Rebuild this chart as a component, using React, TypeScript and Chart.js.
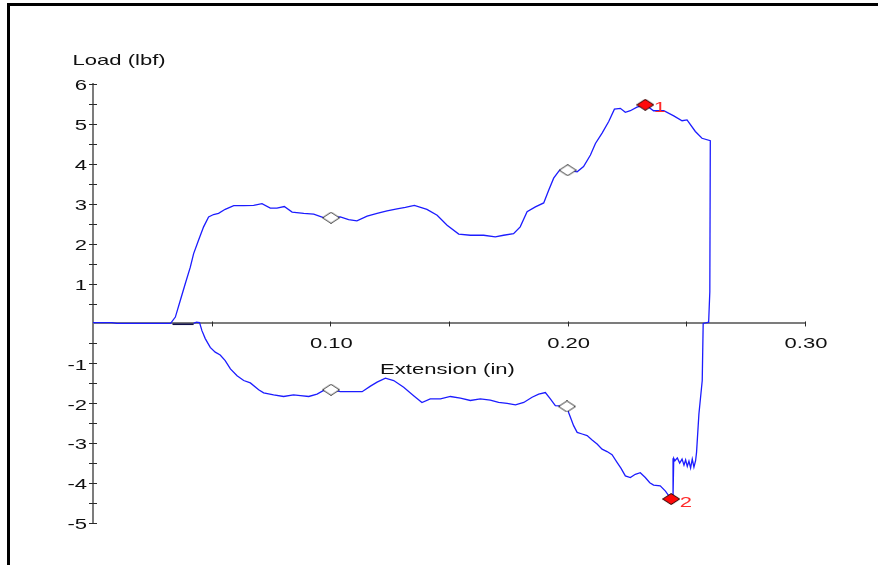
import React, { useEffect, useRef } from "react";
import { Chart, registerables } from "chart.js";

Chart.register(...registerables);

// ---- data (extension in inches, load in lbf) ----
const upperExt = [
  0, 0.008, 0.01, 0.0327, 0.0347, 0.0368, 0.0389, 0.041, 0.0424, 0.0445, 0.0466, 0.0487, 0.0508, 0.0529,
  0.0557, 0.0593, 0.0635, 0.0677, 0.0712, 0.0747, 0.0775, 0.0806, 0.0839, 0.0888, 0.093, 0.0968, 0.1003,
  0.1042, 0.1077, 0.1112, 0.1155, 0.1197, 0.1239, 0.1281, 0.1316, 0.1354, 0.1407, 0.145, 0.1492, 0.1541,
  0.159, 0.1646, 0.1695, 0.173, 0.1772, 0.18, 0.1829, 0.1864, 0.1899, 0.192, 0.1941, 0.1966, 0.2, 0.204,
  0.2067, 0.2096, 0.2117, 0.2145, 0.2173, 0.2197, 0.2222, 0.2243, 0.2264, 0.2292, 0.2327, 0.2362, 0.2405,
  0.2447, 0.2482, 0.2503, 0.2538, 0.2566, 0.2601,
];
const upperLoad = [
  0.02, 0.02, 0, 0, 0.16, 0.58, 1.0, 1.41, 1.75, 2.09, 2.42, 2.67, 2.73, 2.76,
  2.86, 2.95, 2.95, 2.96, 3.0, 2.89, 2.89, 2.93, 2.79, 2.76, 2.74, 2.66, 2.65,
  2.67, 2.6, 2.57, 2.69, 2.76, 2.82, 2.87, 2.91, 2.96, 2.86, 2.71, 2.46, 2.24,
  2.21, 2.21, 2.17, 2.21, 2.25, 2.42, 2.8, 2.92, 3.02, 3.34, 3.64, 3.84, 3.84, 3.8,
  3.93, 4.22, 4.51, 4.77, 5.06, 5.37, 5.39, 5.29, 5.33, 5.42, 5.48, 5.33, 5.33,
  5.2, 5.08, 5.1, 4.81, 4.64, 4.58,
];
const dropExt = [
  0.2599, 0.2594, 0.2571, 0.2567, 0.2553, 0.2543, 0.2539, 0.2532, 0.2525, 0.2518, 0.2511, 0.2504, 0.2497,
  0.249, 0.2482, 0.2472, 0.2462, 0.2452, 0.2447, 0.2444, 0.2444, 0.2436,
];
const dropLoad = [
  0.8, 0.03, 0, -1.43, -2.27, -3.23, -3.44, -3.6, -3.4, -3.62, -3.45, -3.58, -3.42,
  -3.55, -3.4, -3.5, -3.37, -3.44, -3.38, -3.44, -4.32, -4.4,
];
const lowerExt = [
  0.2412, 0.239, 0.2362, 0.2346, 0.2327, 0.2306, 0.2285, 0.2264, 0.2243, 0.2225, 0.2208, 0.2187, 0.2166,
  0.2145, 0.2124, 0.2103, 0.2082, 0.2061, 0.204, 0.2025, 0.2014, 0.2004, 0.1997, 0.1948, 0.1927, 0.1906,
  0.1878, 0.185, 0.1815, 0.178, 0.1745, 0.1709, 0.1674, 0.1632, 0.159, 0.1548, 0.1506, 0.1464, 0.1421,
  0.1386, 0.1351, 0.1309, 0.1267, 0.1232, 0.1197, 0.1169, 0.1134, 0.1091, 0.1042, 0.1003, 0.0972, 0.0944,
  0.0909, 0.0874, 0.0845, 0.0803, 0.0761, 0.0719, 0.0698, 0.0663, 0.0635, 0.0607, 0.0579, 0.0557, 0.0536,
  0.0515, 0.0494, 0.0473, 0.0459, 0.0449, 0.0436, 0.0424,
];
const lowerLoad = [
  -4.2, -4.07, -4.05, -3.99, -3.86, -3.74, -3.78, -3.86, -3.82, -3.63, -3.48, -3.29, -3.21,
  -3.15, -3.02, -2.92, -2.81, -2.77, -2.73, -2.56, -2.39, -2.23, -2.08, -2.06, -1.89, -1.73,
  -1.77, -1.85, -1.98, -2.04, -2.0, -1.98, -1.92, -1.89, -1.93, -1.87, -1.83, -1.89, -1.89,
  -1.98, -1.81, -1.6, -1.43, -1.37, -1.47, -1.57, -1.71, -1.71, -1.71, -1.66, -1.68, -1.77,
  -1.83, -1.81, -1.79, -1.83, -1.79, -1.74, -1.66, -1.49, -1.43, -1.31, -1.14, -0.93, -0.79,
  -0.72, -0.6, -0.38, -0.18, 0.02, 0.03, 0.0,
];
const tailExt = [0.0424, 0.0335];
const tailLoad = [-0.02, -0.02];

const openMarkerExt = [0.1003, 0.2, 0.1003, 0.1997];
const openMarkerLoad = [2.65, 3.84, -1.66, -2.08];
const peakMarkerExt = [0.2327, 0.2436];
const peakMarkerLoad = [5.48, -4.4];
const peakMarkerLabels = ["1", "2"];

const xLabelValues = [0.1, 0.2, 0.3];
const xLabelTexts = ["0.10", "0.20", "0.30"];
const yLabelValues = [6, 5, 4, 3, 2, 1, -1, -2, -3, -4, -5];
const yLabelTexts = ["6", "5", "4", "3", "2", "1", "-1", "-2", "-3", "-4", "-5"];
const yTitle = "Load (lbf)";
const xTitle = "Extension (in)";

const FONT = '15px "Liberation Sans", Arial, sans-serif';
const SX = 1.47;

function toPoints(xs: number[], ys: number[]) {
  return xs.map((x, i) => ({ x, y: ys[i] }));
}

function makeDiamond(w: number, h: number, fill: string, stroke: string) {
  const c = document.createElement("canvas");
  c.width = w;
  c.height = h;
  const g = c.getContext("2d")!;
  g.beginPath();
  g.moveTo(w / 2, 0.5);
  g.lineTo(w - 0.5, h / 2);
  g.lineTo(w / 2, h - 0.5);
  g.lineTo(0.5, h / 2);
  g.closePath();
  g.fillStyle = fill;
  g.fill();
  g.strokeStyle = stroke;
  g.lineWidth = 1;
  g.stroke();
  return c;
}

function stretchText(ctx: CanvasRenderingContext2D, text: string, x: number, y: number, align: CanvasTextAlign, color: string) {
  ctx.save();
  ctx.translate(x, y);
  ctx.scale(SX, 1);
  ctx.font = FONT;
  ctx.fillStyle = color;
  ctx.textAlign = align;
  ctx.textBaseline = "alphabetic";
  ctx.fillText(text, 0, 0);
  ctx.restore();
}

const axisPlugin = {
  id: "axisDecor",
  afterDraw(chart: any) {
    const { ctx, scales } = chart;
    const xs = scales.x;
    const ys = scales.y;
    const x0 = xs.getPixelForValue(0);
    const y0 = ys.getPixelForValue(0);
    ctx.save();
    ctx.strokeStyle = "#2a2a2a";
    ctx.lineWidth = 1;
    ctx.beginPath();
    ys.ticks.forEach((t: any) => {
      if (Math.abs(t.value) < 1e-9) return;
      const py = Math.round(ys.getPixelForValue(t.value)) + 0.5;
      ctx.moveTo(x0 - 4, py);
      ctx.lineTo(x0 + 4, py);
    });
    xs.ticks.forEach((t: any) => {
      if (Math.abs(t.value) < 1e-9) return;
      const px = Math.round(xs.getPixelForValue(t.value)) + 0.5;
      ctx.moveTo(px, y0 - 2);
      ctx.lineTo(px, y0 + 3);
    });
    ctx.stroke();
    ctx.restore();

    const textColor = "#101010";
    yLabelValues.forEach((v, i) => {
      stretchText(ctx, yLabelTexts[i], x0 - 6, ys.getPixelForValue(v) + 6.3, "right", textColor);
    });
    xLabelValues.forEach((v, i) => {
      stretchText(ctx, xLabelTexts[i], xs.getPixelForValue(v) + 1, y0 + 24.7, "center", textColor);
    });
    stretchText(ctx, yTitle, x0 - 20.5, ys.getPixelForValue(6) - 19, "left", textColor);
    stretchText(ctx, xTitle, (xs.left + xs.right) / 2 - 1.5, y0 + 50.5, "center", textColor);

    peakMarkerExt.forEach((v, i) => {
      const px = xs.getPixelForValue(v);
      const py = ys.getPixelForValue(peakMarkerLoad[i]);
      stretchText(ctx, peakMarkerLabels[i], px + 8.5, py + 7.5, "left", "#ff2a2a");
    });
  },
};

export default function App() {
  const ref = useRef<HTMLCanvasElement>(null);
  useEffect(() => {
    if (!ref.current) return;
    const openDiamond = makeDiamond(18, 12, "#ffffff", "#303030");
    const redDiamond = makeDiamond(18, 12, "#ff0a0a", "#200000");
    const chart = new Chart(ref.current, {
      type: "scatter",
      data: {
        datasets: [
          {
            data: toPoints(peakMarkerExt, peakMarkerLoad),
            pointStyle: redDiamond as any,
            pointRadius: 6,
            showLine: false,
            order: 0,
          },
          {
            data: toPoints(openMarkerExt, openMarkerLoad),
            pointStyle: openDiamond as any,
            pointRadius: 6,
            showLine: false,
            order: 1,
          },
          {
            data: toPoints(tailExt, tailLoad),
            showLine: true,
            borderColor: "#10104a",
            borderWidth: 1.6,
            pointRadius: 0,
            order: 2,
          },
          {
            data: [
              ...toPoints(upperExt, upperLoad),
              ...toPoints(dropExt, dropLoad),
              ...toPoints(lowerExt, lowerLoad),
            ],
            showLine: true,
            borderColor: "#1c1cff",
            borderWidth: 1.3,
            pointRadius: 0,
            tension: 0,
            order: 3,
          },
        ],
      },
      options: {
        responsive: false,
        maintainAspectRatio: false,
        devicePixelRatio: 1,
        animation: false,
        layout: { padding: { left: 93, right: 73, top: 84, bottom: 42 } },
        plugins: { legend: { display: false }, tooltip: { enabled: false } },
        scales: {
          x: {
            type: "linear",
            min: 0,
            max: 0.3,
            position: { y: 0 } as any,
            grid: { display: true, drawOnChartArea: false, drawTicks: false },
            border: { display: true, color: "#7c7c7c", width: 2 },
            ticks: { display: false, stepSize: 0.05 },
            title: { display: false },
          },
          y: {
            type: "linear",
            min: -5,
            max: 6,
            position: { x: 0 } as any,
            grid: { display: true, drawOnChartArea: false, drawTicks: false },
            border: { display: true, color: "#7c7c7c", width: 2 },
            ticks: { display: false, stepSize: 0.5 },
            title: { display: false },
          },
        },
      },
      plugins: [axisPlugin],
    });
    return () => chart.destroy();
  }, []);

  return (
    <div style={{ position: "fixed", left: 0, top: 0, width: 878, height: 565, background: "#fff", overflow: "hidden" }}>
      <div
        style={{
          position: "absolute",
          left: 7,
          top: 3,
          width: 900,
          height: 600,
          borderTop: "3px solid #000",
          borderLeft: "3px solid #000",
        }}
      />
      <canvas ref={ref} width={878} height={565} style={{ position: "absolute", left: 0, top: 0 }} />
    </div>
  );
}
